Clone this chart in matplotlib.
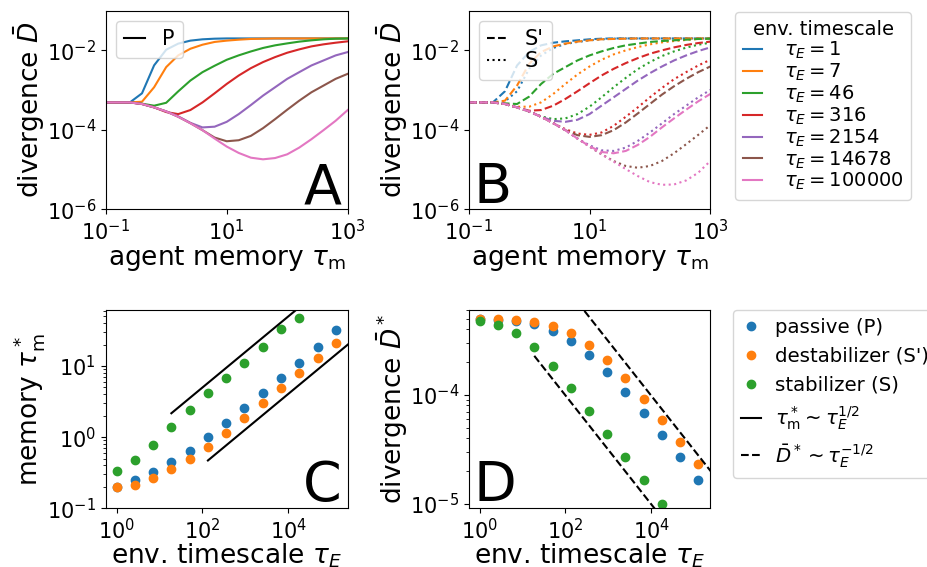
import numpy as np
import matplotlib.pyplot as plt
from matplotlib.lines import Line2D
from matplotlib.ticker import FixedLocator, NullLocator

# agent memory grid used for the divergence curves (0.2 decade steps)
tau_m = [0.1, 0.158, 0.251, 0.398, 0.631, 1.0, 1.58, 2.51, 3.98, 6.31,
         10.0, 15.8, 25.1, 39.8, 63.1, 100.0, 158.0, 251.0, 398.0, 631.0, 1000.0]
tau_E_curves = [1, 7, 46, 316, 2154, 14678, 100000]

# passive agent (P), one row per environment timescale
div_P = [
    [4.9e-4, 4.9e-4, 4.9e-4, 8.3e-4, 4.2e-3, 1.04e-2, 1.48e-2, 1.76e-2, 1.9e-2, 1.97e-2, 2.0e-2,
     2.0e-2, 2.0e-2, 2.0e-2, 2.0e-2, 2.0e-2, 2.0e-2, 2.0e-2, 2.0e-2, 2.0e-2, 2.0e-2],
    [4.9e-4, 4.9e-4, 4.9e-4, 5.1e-4, 1.18e-3, 3.8e-3, 7.5e-3, 1.1e-2, 1.39e-2, 1.63e-2, 1.76e-2,
     1.86e-2, 1.94e-2, 1.97e-2, 2.0e-2, 2.0e-2, 2.0e-2, 2.0e-2, 2.0e-2, 2.0e-2, 2.0e-2],
    [4.9e-4, 4.9e-4, 4.9e-4, 4.55e-4, 4.05e-4, 4.8e-4, 9.3e-4, 1.74e-3, 2.83e-3, 4.1e-3, 5.8e-3,
     7.5e-3, 9.4e-3, 1.15e-2, 1.34e-2, 1.5e-2, 1.66e-2, 1.79e-2, 1.9e-2, 1.97e-2, 2.0e-2],
    [4.9e-4, 4.9e-4, 4.9e-4, 4.47e-4, 3.68e-4, 2.8e-4, 2.49e-4, 3.15e-4, 4.9e-4, 8.3e-4, 1.43e-3,
     2.33e-3, 3.57e-3, 5.07e-3, 6.78e-3, 8.73e-3, 1.06e-2, 1.26e-2, 1.42e-2, 1.56e-2, 1.69e-2],
    [4.9e-4, 4.9e-4, 4.9e-4, 4.47e-4, 3.68e-4, 2.91e-4, 2.18e-4, 1.5e-4, 1.15e-4, 1.2e-4, 1.59e-4,
     2.49e-4, 4.21e-4, 7.26e-4, 1.18e-3, 1.92e-3, 2.83e-3, 4.17e-3, 5.58e-3, 7.47e-3, 9.07e-3],
    [4.9e-4, 4.9e-4, 4.9e-4, 4.47e-4, 3.68e-4, 2.91e-4, 2.13e-4, 1.47e-4, 9.8e-5, 6.39e-5, 5.16e-5,
     5.47e-5, 7.05e-5, 1.1e-4, 1.86e-4, 3.21e-4, 5.42e-4, 8.81e-4, 1.3e-3, 1.92e-3, 2.57e-3],
    [4.9e-4, 4.9e-4, 4.9e-4, 4.47e-4, 3.68e-4, 2.91e-4, 2.13e-4, 1.47e-4, 9.8e-5, 6.03e-5, 3.79e-5,
     2.62e-5, 1.99e-5, 1.81e-5, 1.95e-5, 2.42e-5, 3.57e-5, 5.8e-5, 9.81e-5, 1.69e-4, 3.15e-4],
]

# destabilizer (S')
div_Sp = [
    [4.9e-4, 4.9e-4, 4.9e-4, 9.34e-4, 4.17e-3, 9.07e-3, 1.34e-2, 1.56e-2, 1.69e-2, 1.79e-2, 1.9e-2,
     1.97e-2, 2.0e-2, 2.0e-2, 2.0e-2, 2.0e-2, 2.0e-2, 2.0e-2, 2.0e-2, 2.0e-2, 2.0e-2],
    [4.9e-4, 4.9e-4, 4.9e-4, 5.42e-4, 1.3e-3, 4.6e-3, 9.07e-3, 1.26e-2, 1.48e-2, 1.66e-2, 1.79e-2,
     1.9e-2, 1.94e-2, 1.97e-2, 2.0e-2, 2.0e-2, 2.0e-2, 2.0e-2, 2.0e-2, 2.0e-2, 2.0e-2],
    [4.9e-4, 4.9e-4, 4.9e-4, 4.64e-4, 4.47e-4, 6.84e-4, 1.43e-3, 2.57e-3, 3.79e-3, 5.58e-3, 7.47e-3,
     9.43e-3, 1.15e-2, 1.34e-2, 1.48e-2, 1.63e-2, 1.72e-2, 1.79e-2, 1.86e-2, 1.94e-2, 1.97e-2],
    [4.9e-4, 4.9e-4, 4.9e-4, 4.47e-4, 3.68e-4, 3.03e-4, 3.15e-4, 4.05e-4, 5.98e-4, 9.34e-4, 1.49e-3,
     2.33e-3, 3.43e-3, 4.78e-3, 6.39e-3, 8.23e-3, 1.0e-2, 1.19e-2, 1.37e-2, 1.53e-2, 1.66e-2],
    [4.9e-4, 4.9e-4, 4.9e-4, 4.47e-4, 3.68e-4, 2.91e-4, 2.13e-4, 1.69e-4, 1.59e-4, 1.79e-4, 2.49e-4,
     4.05e-4, 6.58e-4, 1.07e-3, 1.74e-3, 2.67e-3, 3.93e-3, 5.58e-3, 7.47e-3, 9.62e-3, 1.19e-2],
    [4.9e-4, 4.9e-4, 4.9e-4, 4.47e-4, 3.68e-4, 2.91e-4, 2.13e-4, 1.47e-4, 9.8e-5, 7.33e-5, 6.65e-5,
     7.33e-5, 9.81e-5, 1.53e-4, 2.59e-4, 4.47e-4, 7.69e-4, 1.25e-3, 1.92e-3, 2.83e-3, 3.93e-3],
    [4.9e-4, 4.9e-4, 4.9e-4, 4.47e-4, 3.68e-4, 2.91e-4, 2.13e-4, 1.47e-4, 9.8e-5, 6.03e-5, 3.86e-5,
     2.77e-5, 2.57e-5, 2.94e-5, 4.17e-5, 6.65e-5, 1.15e-4, 1.94e-4, 3.21e-4, 5.22e-4, 8.0e-4],
]

# stabilizer (S)
div_S = [
    [4.9e-4, 4.9e-4, 4.9e-4, 5.22e-4, 9.34e-4, 3.43e-3, 7.47e-3, 1.15e-2, 1.45e-2, 1.63e-2, 1.79e-2,
     1.9e-2, 1.97e-2, 2.0e-2, 2.0e-2, 2.0e-2, 2.0e-2, 2.0e-2, 2.0e-2, 2.0e-2, 2.0e-2],
    [4.9e-4, 4.9e-4, 4.9e-4, 4.47e-4, 3.82e-4, 3.82e-4, 4.92e-4, 8.0e-4, 1.43e-3, 2.47e-3, 3.93e-3,
     5.8e-3, 7.92e-3, 1.0e-2, 1.21e-2, 1.42e-2, 1.59e-2, 1.72e-2, 1.83e-2, 1.94e-2, 1.97e-2],
    [4.9e-4, 4.9e-4, 4.9e-4, 4.47e-4, 3.68e-4, 2.85e-4, 2.18e-4, 1.86e-4, 1.94e-4, 2.49e-4, 3.82e-4,
     6.58e-4, 1.18e-3, 2.03e-3, 3.37e-3, 5.07e-3, 7.19e-3, 9.43e-3, 1.17e-2, 1.39e-2, 1.56e-2],
    [4.9e-4, 4.9e-4, 4.9e-4, 4.47e-4, 3.68e-4, 2.91e-4, 2.13e-4, 1.47e-4, 1.04e-4, 8.08e-5, 7.47e-5,
     8.56e-5, 1.26e-4, 2.13e-4, 3.68e-4, 6.58e-4, 1.13e-3, 1.88e-3, 2.83e-3, 4.17e-3, 5.8e-3],
    [4.9e-4, 4.9e-4, 4.9e-4, 4.47e-4, 3.68e-4, 2.91e-4, 2.13e-4, 1.47e-4, 9.8e-5, 6.03e-5, 4.09e-5,
     3.06e-5, 2.94e-5, 3.57e-5, 5.27e-5, 8.56e-5, 1.45e-4, 2.49e-4, 4.05e-4, 6.58e-4, 1.01e-3],
    [4.9e-4, 4.9e-4, 4.9e-4, 4.47e-4, 3.68e-4, 2.91e-4, 2.13e-4, 1.47e-4, 9.8e-5, 6.03e-5, 3.79e-5,
     2.42e-5, 1.64e-5, 1.23e-5, 1.11e-5, 1.23e-5, 1.64e-5, 2.57e-5, 4.34e-5, 7.47e-5, 1.31e-4],
    [4.9e-4, 4.9e-4, 4.9e-4, 4.47e-4, 3.68e-4, 2.91e-4, 2.13e-4, 1.47e-4, 9.8e-5, 6.03e-5, 3.79e-5,
     2.42e-5, 1.58e-5, 1.03e-5, 6.85e-6, 4.83e-6, 4.13e-6, 4.21e-6, 5.32e-6, 8.32e-6, 1.64e-5],
]

# optimal memory and minimal divergence versus environment timescale
tau_E_scan = [1.0, 2.66, 7.09, 18.9, 50.3, 134, 357, 950, 2530, 6740, 17950, 47800, 127000]
opt_mem_P = [0.2, 0.253, 0.321, 0.443, 0.645, 0.995, 1.58, 2.57, 4.18, 6.85, 11.1, 18.3, 32.0]
opt_mem_Sp = [0.2, 0.216, 0.27, 0.357, 0.499, 0.736, 1.16, 1.84, 2.99, 4.85, 7.98, 13.1, 20.8]
opt_mem_S = [0.338, 0.473, 0.776, 1.37, 2.41, 4.13, 6.85, 11.1, 18.3, 32.7, 47.2]
min_div_P = [4.95e-4, 4.89e-4, 4.75e-4, 4.46e-4, 3.87e-4, 3.14e-4, 2.32e-4, 1.61e-4, 1.06e-4,
             6.79e-5, 4.27e-5, 2.67e-5, 1.66e-5]
min_div_Sp = [4.95e-4, 4.92e-4, 4.82e-4, 4.69e-4, 4.25e-4, 3.66e-4, 2.86e-4, 2.07e-4, 1.42e-4,
              9.2e-5, 5.86e-5, 3.69e-5, 2.29e-5]
min_div_S = [4.72e-4, 4.37e-4, 3.69e-4, 2.73e-4, 1.82e-4, 1.16e-4, 7.14e-5, 4.4e-5, 2.69e-5,
             1.66e-5, 9.87e-6]

# square-root scaling guides: prefactor and tau_E span of each
mem_guide_hi = (0.498, 18.9, 1.3e5)
mem_guide_lo = (0.0406, 134, 3e5)
div_guide_hi = (9.84e-3, 134, 3e5)
div_guide_lo = (9.9e-4, 18.9, 1.3e5)

LABEL = 19
TICK = 15
LETTER = 40

fig = plt.figure(figsize=(9.28, 5.67), dpi=100)
axA = fig.add_axes([0.1139, 0.6309, 0.2608, 0.3503])
axB = fig.add_axes([0.5051, 0.6309, 0.2603, 0.3503])
axC = fig.add_axes([0.1139, 0.1035, 0.2608, 0.3497])
axD = fig.add_axes([0.5051, 0.1035, 0.2603, 0.3497])

# A: passive
curve_handles = []
for i, d in enumerate(div_P):
    h, = axA.plot(tau_m, d, color=f'C{i}')
    curve_handles.append(h)
axA.legend([Line2D([], [], color='k')], ['P'], loc='upper left',
           handlelength=1, fontsize=15)

# B: destabilizer and stabilizer
for i in range(len(tau_E_curves)):
    axB.plot(tau_m, div_Sp[i], color=f'C{i}', ls='--')
    axB.plot(tau_m, div_S[i], color=f'C{i}', ls=':')
axB.legend([Line2D([], [], color='k', ls='--'), Line2D([], [], color='k', ls=':')],
           ["S'", 'S'], loc='upper left', handlelength=1, fontsize=15, labelspacing=0.1)

for ax in (axA, axB):
    ax.set_xscale('log')
    ax.set_yscale('log')
    ax.set_xlim(0.1, 1000)
    ax.set_ylim(1e-6, 1e-1)
    ax.xaxis.set_major_locator(FixedLocator([0.1, 10, 1000]))
    ax.yaxis.set_major_locator(FixedLocator([1e-6, 1e-4, 1e-2]))
    ax.xaxis.set_minor_locator(NullLocator())
    ax.yaxis.set_minor_locator(NullLocator())
    ax.set_xlabel(r'agent memory $\tau_\mathrm{m}$', fontsize=LABEL, labelpad=0)
    ax.set_ylabel(r'divergence $\bar{D}$', fontsize=LABEL, labelpad=0)

# C: optimal memory
dot_P, = axC.plot(tau_E_scan, opt_mem_P, 'o', color='C0')
dot_Sp, = axC.plot(tau_E_scan, opt_mem_Sp, 'o', color='C1')
dot_S, = axC.plot(tau_E_scan[:len(opt_mem_S)], opt_mem_S, 'o', color='C2')
for c, t0, t1 in (mem_guide_hi, mem_guide_lo):
    t = np.geomspace(t0, t1, 50)
    axC.plot(t, c * t ** 0.5, color='k')
axC.set_ylim(0.1, 61)
axC.set_ylabel(r'memory $\tau_\mathrm{m}^*$', fontsize=LABEL, labelpad=0)

# D: minimal divergence
axD.plot(tau_E_scan, min_div_P, 'o', color='C0')
axD.plot(tau_E_scan, min_div_Sp, 'o', color='C1')
axD.plot(tau_E_scan[:len(min_div_S)], min_div_S, 'o', color='C2')
for c, t0, t1 in (div_guide_hi, div_guide_lo):
    t = np.geomspace(t0, t1, 50)
    axD.plot(t, c * t ** -0.5, color='k', ls='--')
axD.set_ylim(9.05e-6, 6.0e-4)
axD.set_ylabel(r'divergence $\bar{D}^*$', fontsize=LABEL, labelpad=0)

for ax in (axC, axD):
    ax.set_xscale('log')
    ax.set_yscale('log')
    ax.set_xlim(0.56, 2.4e5)
    ax.xaxis.set_major_locator(FixedLocator([1, 100, 1e4]))
    ax.xaxis.set_minor_locator(NullLocator())
    ax.set_xlabel(r'env. timescale $\tau_E$', fontsize=LABEL, labelpad=-1)

for ax in (axA, axB, axC, axD):
    ax.tick_params(labelsize=TICK)

# panel letters
axA.text(0.975, 0.03, 'A', transform=axA.transAxes, fontsize=LETTER, ha='right', va='baseline')
axB.text(0.02, 0.03, 'B', transform=axB.transAxes, fontsize=LETTER, ha='left', va='baseline')
axC.text(0.975, 0.035, 'C', transform=axC.transAxes, fontsize=LETTER, ha='right', va='baseline')
axD.text(0.02, 0.035, 'D', transform=axD.transAxes, fontsize=LETTER, ha='left', va='baseline')

fig.legend(curve_handles, [rf'$\tau_E = {v}$' for v in tau_E_curves],
           title='env. timescale', loc='upper left', bbox_to_anchor=(0.792, 0.978),
           borderaxespad=0, handlelength=1, handletextpad=1.1, fontsize=14,
           title_fontsize=14, labelspacing=0.03)

fig.legend([dot_P, dot_Sp, dot_S, Line2D([], [], color='k'), Line2D([], [], color='k', ls='--')],
           ['passive (P)', "destabilizer (S')", 'stabilizer (S)',
            r'$\tau_\mathrm{m}^* \sim \tau_E^{1/2}$', r'$\bar{D}^* \sim \tau_E^{-1/2}$'],
           loc='upper left', bbox_to_anchor=(0.790, 0.4533), borderaxespad=0,
           handlelength=1, handletextpad=0.7, numpoints=1, fontsize=14.2)

fig.savefig('out.png', dpi=100)
